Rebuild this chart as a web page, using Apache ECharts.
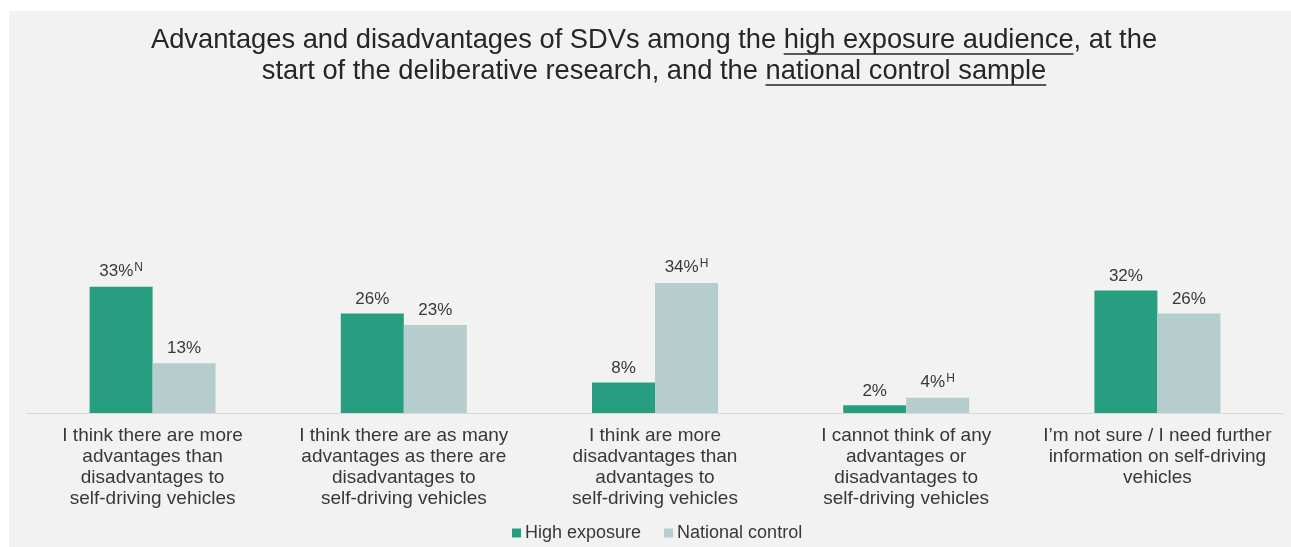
<!DOCTYPE html>
<html>
<head>
<meta charset="utf-8">
<script src="https://cdn.jsdelivr.net/npm/echarts@6/dist/echarts.min.js"></script>
<style>
  html, body { margin: 0; padding: 0; background: #ffffff; }
  #chart { width: 1291px; height: 547px; }
</style>
</head>
<body>
<div id="chart"></div>
<script>
// Response options (wrapped as shown under the axis)
const categories = [
  'I think there are more\nadvantages than\ndisadvantages to\nself-driving vehicles',
  'I think there are as many\nadvantages as there are\ndisadvantages to\nself-driving vehicles',
  'I think are more\ndisadvantages than\nadvantages to\nself-driving vehicles',
  'I cannot think of any\nadvantages or\ndisadvantages to\nself-driving vehicles',
  'I\u2019m not sure / I need further\ninformation on self-driving\nvehicles'
];
const seriesNames = ['High exposure', 'National control'];
// Percentages
const highExposure = [33, 26, 8, 2, 32];
const nationalControl = [13, 23, 34, 4, 26];
// Significance markers shown as superscripts next to the value
const highExposureSig = ['N', '', '', '', ''];
const nationalControlSig = ['', '', 'H', 'H', ''];

const titleLine1 = ['Advantages and disadvantages of SDVs among the ', 'high exposure audience', ', at the'];
const titleLine2 = ['start of the deliberative research, and the ', 'national control sample', ''];

const GREEN = '#289e80';
const GREY = '#b6cdce';
const TEXT = '#383838';
const FONT_FAMILY = '"Liberation Sans", Arial, sans-serif';
const TITLE_FONT_SIZE = 27.3;
const TITLE_FONT = TITLE_FONT_SIZE + 'px ' + FONT_FAMILY;
const TITLE_X = 654;
const TITLE_Y1 = 40;
const TITLE_Y2 = 71;

const chart = echarts.init(document.getElementById('chart'), null, { renderer: 'canvas' });

function measure(text) {
  const ctx = document.createElement('canvas').getContext('2d');
  ctx.font = TITLE_FONT;
  return ctx.measureText(text).width;
}

// Title lines plus underlines under the highlighted phrases
function titleGraphics() {
  const out = [];
  [[titleLine1, TITLE_Y1], [titleLine2, TITLE_Y2]].forEach(([parts, y]) => {
    const full = parts.join('');
    out.push({
      type: 'text', silent: true, z: 10,
      x: TITLE_X, y: y,
      style: {
        text: full, font: TITLE_FONT, fill: '#262626',
        align: 'center', verticalAlign: 'middle'
      }
    });
    const total = measure(full);
    const x0 = TITLE_X - total / 2 + measure(parts[0]);
    const x1 = x0 + measure(parts[1]);
    out.push({
      type: 'line', silent: true, z: 10,
      shape: { x1: x0, y1: y + 14, x2: x1, y2: y + 14 },
      style: { stroke: '#262626', lineWidth: 1.4 }
    });
  });
  return out;
}

function labelFormatter(sig) {
  return function (p) {
    const s = sig[p.dataIndex];
    return '{v|' + p.value + '%}' + (s ? '{s|' + s + '}' : '');
  };
}

const labelRich = {
  v: { fontSize: 17, color: TEXT, fontFamily: FONT_FAMILY },
  s: { fontSize: 12, color: TEXT, fontFamily: FONT_FAMILY, verticalAlign: 'top', padding: [0, 0, 7, 1] }
};

chart.setOption({
  backgroundColor: '#ffffff',
  animation: false,
  graphic: [
    {
      type: 'rect', silent: true, z: -10,
      shape: { x: 9, y: 11, width: 1291, height: 547 },
      style: { fill: '#f2f2f2' }
    }
  ].concat(titleGraphics()),
  legend: {
    data: seriesNames,
    left: 507,
    top: 519,
    itemWidth: 9,
    itemHeight: 9,
    itemGap: 23,
    icon: 'rect',
    textStyle: { fontSize: 18, color: TEXT, fontFamily: FONT_FAMILY, padding: [0, 0, 0, -1] }
  },
  grid: { left: 27, width: 1256, top: 260, bottom: 134, containLabel: false },
  xAxis: {
    type: 'category',
    data: categories,
    axisLine: { lineStyle: { color: '#d9d9d9', width: 1 } },
    axisTick: { show: false },
    axisLabel: {
      interval: 0, margin: 12, color: TEXT, fontSize: 19, lineHeight: 21,
      fontFamily: FONT_FAMILY
    }
  },
  yAxis: {
    type: 'value', min: 0, max: 40, show: false,
    splitLine: { show: false }
  },
  series: [
    {
      name: seriesNames[0], type: 'bar', data: highExposure,
      barWidth: 63, barGap: '0%',
      itemStyle: { color: GREEN },
      label: { show: true, position: 'top', distance: 6, formatter: labelFormatter(highExposureSig), rich: labelRich }
    },
    {
      name: seriesNames[1], type: 'bar', data: nationalControl,
      barWidth: 63, barGap: '0%',
      itemStyle: { color: GREY },
      label: { show: true, position: 'top', distance: 6, formatter: labelFormatter(nationalControlSig), rich: labelRich }
    }
  ]
});
</script>
</body>
</html>
